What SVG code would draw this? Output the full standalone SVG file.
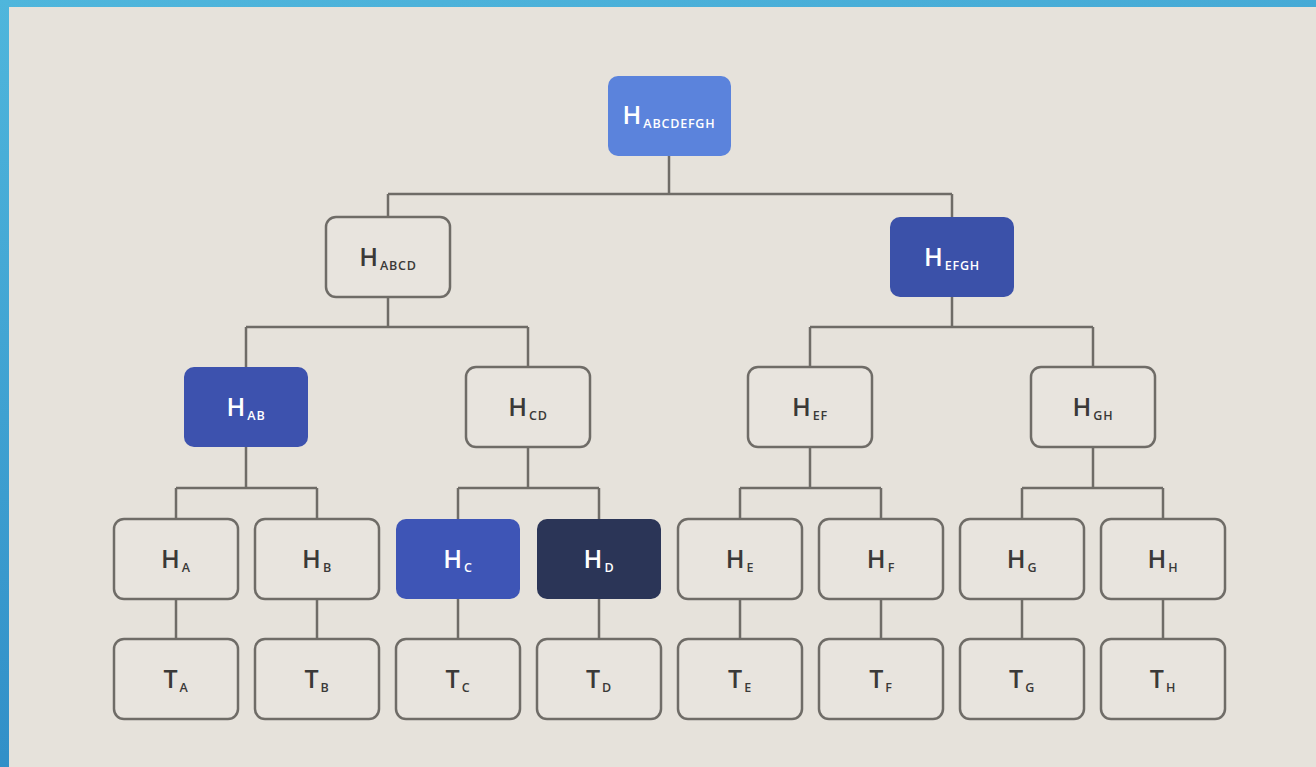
<svg xmlns="http://www.w3.org/2000/svg" width="1316" height="767" viewBox="0 0 1316 767">
  <defs>
    <linearGradient id="frame" x1="0" y1="0" x2="0.3" y2="1">
      <stop offset="0" stop-color="#4fb6dc"/>
      <stop offset="1" stop-color="#2f8cc6"/>
    </linearGradient>
    <style>
      .box { fill: #e8e4de; stroke: #6f6c67; stroke-width: 2.5; }
      .lbl { font-family: "Open Sans", "Liberation Sans", sans-serif; font-weight: 600; text-anchor: middle; fill: #3a3938; }
      .w { fill: #ffffff; }
      .big { font-size: 25px; }
      .sub { font-size: 12.5px; letter-spacing: 0.8px; }
      .conn { fill: none; stroke: #6f6c67; stroke-width: 2.5; }
    </style>
  </defs>
  <rect x="0" y="0" width="1316" height="767" fill="url(#frame)"/>
  <rect x="9" y="7" width="1307" height="760" fill="#e6e2db"/>

  <g id="connectors" class="conn">
    <path d="M669 156 V194 M388 194 H952 M388 194 V217 M952 194 V217"/>
    <path d="M388 297 V327 M246 327 H528 M246 327 V367 M528 327 V367"/>
    <path d="M952 297 V327 M810 327 H1093 M810 327 V367 M1093 327 V367"/>
    <path d="M246 447 V488 M176 488 H317 M176 488 V519 M317 488 V519"/>
    <path d="M528 447 V488 M458 488 H599 M458 488 V519 M599 488 V519"/>
    <path d="M810 447 V488 M740 488 H881 M740 488 V519 M881 488 V519"/>
    <path d="M1093 447 V488 M1022 488 H1163 M1022 488 V519 M1163 488 V519"/>
    <path d="M176 599 V639 M317 599 V639 M458 599 V639 M599 599 V639 M740 599 V639 M881 599 V639 M1022 599 V639 M1163 599 V639"/>
  </g>

  <g id="root">
    <rect x="608" y="76" width="123" height="80" rx="10" fill="#5b83dc"/>
    <text class="lbl w" x="669" y="124"><tspan class="big">H</tspan><tspan class="sub" dx="2" dy="4">ABCDEFGH</tspan></text>
  </g>

  <g id="h-abcd">
    <rect class="box" x="326" y="217" width="124" height="80" rx="10"/>
    <text class="lbl" x="388" y="266"><tspan class="big">H</tspan><tspan class="sub" dx="2" dy="4">ABCD</tspan></text>
  </g>
  <g id="h-efgh">
    <rect x="890" y="217" width="124" height="80" rx="10" fill="#3b51a9"/>
    <text class="lbl w" x="952" y="266"><tspan class="big">H</tspan><tspan class="sub" dx="2" dy="4">EFGH</tspan></text>
  </g>

  <g id="h-ab">
    <rect x="184" y="367" width="124" height="80" rx="10" fill="#3d52ae"/>
    <text class="lbl w" x="246" y="416"><tspan class="big">H</tspan><tspan class="sub" dx="2" dy="4">AB</tspan></text>
  </g>
  <g id="h-cd">
    <rect class="box" x="466" y="367" width="124" height="80" rx="10"/>
    <text class="lbl" x="528" y="416"><tspan class="big">H</tspan><tspan class="sub" dx="2" dy="4">CD</tspan></text>
  </g>
  <g id="h-ef">
    <rect class="box" x="748" y="367" width="124" height="80" rx="10"/>
    <text class="lbl" x="810" y="416"><tspan class="big">H</tspan><tspan class="sub" dx="2" dy="4">EF</tspan></text>
  </g>
  <g id="h-gh">
    <rect class="box" x="1031" y="367" width="124" height="80" rx="10"/>
    <text class="lbl" x="1093" y="416"><tspan class="big">H</tspan><tspan class="sub" dx="2" dy="4">GH</tspan></text>
  </g>

  <g id="h-a">
    <rect class="box" x="114" y="519" width="124" height="80" rx="10"/>
    <text class="lbl" x="176" y="568"><tspan class="big">H</tspan><tspan class="sub" dx="2" dy="4">A</tspan></text>
  </g>
  <g id="h-b">
    <rect class="box" x="255" y="519" width="124" height="80" rx="10"/>
    <text class="lbl" x="317" y="568"><tspan class="big">H</tspan><tspan class="sub" dx="2" dy="4">B</tspan></text>
  </g>
  <g id="h-c">
    <rect x="396" y="519" width="124" height="80" rx="10" fill="#3e55b6"/>
    <text class="lbl w" x="458" y="568"><tspan class="big">H</tspan><tspan class="sub" dx="2" dy="4">C</tspan></text>
  </g>
  <g id="h-d">
    <rect x="537" y="519" width="124" height="80" rx="10" fill="#2b3557"/>
    <text class="lbl w" x="599" y="568"><tspan class="big">H</tspan><tspan class="sub" dx="2" dy="4">D</tspan></text>
  </g>
  <g id="h-e">
    <rect class="box" x="678" y="519" width="124" height="80" rx="10"/>
    <text class="lbl" x="740" y="568"><tspan class="big">H</tspan><tspan class="sub" dx="2" dy="4">E</tspan></text>
  </g>
  <g id="h-f">
    <rect class="box" x="819" y="519" width="124" height="80" rx="10"/>
    <text class="lbl" x="881" y="568"><tspan class="big">H</tspan><tspan class="sub" dx="2" dy="4">F</tspan></text>
  </g>
  <g id="h-g">
    <rect class="box" x="960" y="519" width="124" height="80" rx="10"/>
    <text class="lbl" x="1022" y="568"><tspan class="big">H</tspan><tspan class="sub" dx="2" dy="4">G</tspan></text>
  </g>
  <g id="h-h">
    <rect class="box" x="1101" y="519" width="124" height="80" rx="10"/>
    <text class="lbl" x="1163" y="568"><tspan class="big">H</tspan><tspan class="sub" dx="2" dy="4">H</tspan></text>
  </g>

  <g id="t-a">
    <rect class="box" x="114" y="639" width="124" height="80" rx="10"/>
    <text class="lbl" x="176" y="688"><tspan class="big">T</tspan><tspan class="sub" dx="2" dy="4">A</tspan></text>
  </g>
  <g id="t-b">
    <rect class="box" x="255" y="639" width="124" height="80" rx="10"/>
    <text class="lbl" x="317" y="688"><tspan class="big">T</tspan><tspan class="sub" dx="2" dy="4">B</tspan></text>
  </g>
  <g id="t-c">
    <rect class="box" x="396" y="639" width="124" height="80" rx="10"/>
    <text class="lbl" x="458" y="688"><tspan class="big">T</tspan><tspan class="sub" dx="2" dy="4">C</tspan></text>
  </g>
  <g id="t-d">
    <rect class="box" x="537" y="639" width="124" height="80" rx="10"/>
    <text class="lbl" x="599" y="688"><tspan class="big">T</tspan><tspan class="sub" dx="2" dy="4">D</tspan></text>
  </g>
  <g id="t-e">
    <rect class="box" x="678" y="639" width="124" height="80" rx="10"/>
    <text class="lbl" x="740" y="688"><tspan class="big">T</tspan><tspan class="sub" dx="2" dy="4">E</tspan></text>
  </g>
  <g id="t-f">
    <rect class="box" x="819" y="639" width="124" height="80" rx="10"/>
    <text class="lbl" x="881" y="688"><tspan class="big">T</tspan><tspan class="sub" dx="2" dy="4">F</tspan></text>
  </g>
  <g id="t-g">
    <rect class="box" x="960" y="639" width="124" height="80" rx="10"/>
    <text class="lbl" x="1022" y="688"><tspan class="big">T</tspan><tspan class="sub" dx="2" dy="4">G</tspan></text>
  </g>
  <g id="t-h">
    <rect class="box" x="1101" y="639" width="124" height="80" rx="10"/>
    <text class="lbl" x="1163" y="688"><tspan class="big">T</tspan><tspan class="sub" dx="2" dy="4">H</tspan></text>
  </g>
</svg>
